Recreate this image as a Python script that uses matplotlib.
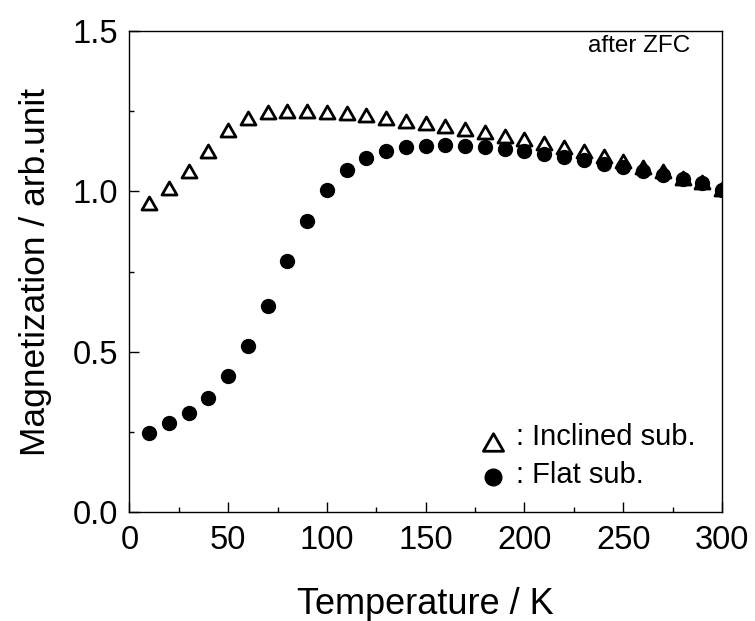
import numpy as np
import matplotlib
matplotlib.use("Agg")
import matplotlib.pyplot as plt
from matplotlib.path import Path

plt.rcParams['font.family'] = ['Liberation Sans', 'DejaVu Sans']

temperature = [10, 20, 30, 40, 50, 60, 70, 80, 90, 100, 110, 120, 130, 140, 150,
               160, 170, 180, 190, 200, 210, 220, 230, 240, 250, 260, 270, 280, 290, 300]

inclined = [0.965, 1.010, 1.062, 1.127, 1.190, 1.230, 1.248, 1.252, 1.252, 1.249,
            1.243, 1.237, 1.228, 1.221, 1.212, 1.203, 1.194, 1.184, 1.174, 1.162,
            1.151, 1.139, 1.125, 1.110, 1.094, 1.077, 1.062, 1.043, 1.029, 1.007]

flat = [0.246, 0.277, 0.310, 0.357, 0.423, 0.517, 0.644, 0.782, 0.909, 1.003,
        1.066, 1.103, 1.126, 1.138, 1.143, 1.145, 1.143, 1.138, 1.132, 1.125,
        1.117, 1.108, 1.099, 1.086, 1.075, 1.062, 1.050, 1.038, 1.025, 1.005]

labels = [": Inclined sub.", ": Flat sub."]
annotation = "after ZFC"

tri = Path([(-1, -0.87), (1, -0.87), (0, 0.87), (-1, -0.87)],
           [Path.MOVETO, Path.LINETO, Path.LINETO, Path.CLOSEPOLY])

fig = plt.figure(figsize=(7.55, 6.21), dpi=100)
ax = fig.add_axes([0.1715, 0.1755, 0.7848, 0.7745])

tri_style = dict(linestyle='none', marker=tri, markerfacecolor='white',
                 markeredgecolor='black', markeredgewidth=2.0)
dot_style = dict(linestyle='none', marker='o', markerfacecolor='black',
                 markeredgecolor='black')

ax.plot(temperature, inclined, markersize=10.8, zorder=3, **tri_style)
ax.plot(temperature, flat, markersize=10.0, zorder=4, **dot_style)

ax.set_xlim(0, 300)
ax.set_ylim(0, 1.5)
ax.set_xticks([0, 50, 100, 150, 200, 250, 300])
ax.set_xticks(np.arange(25, 300, 50), minor=True)
ax.set_yticks([0.0, 0.5, 1.0, 1.5])
ax.set_yticks([0.25, 0.75, 1.25], minor=True)
ax.set_yticklabels(["0.0", "0.5", "1.0", "1.5"])

ax.tick_params(which='both', direction='in', top=False, right=False, width=1.0,
               labelsize=23.5, colors='black')
ax.tick_params(which='major', length=7)
ax.tick_params(which='minor', length=3.5)
ax.tick_params(axis='x', which='major', pad=9)
ax.tick_params(axis='y', which='major', pad=8)

for s in ax.spines.values():
    s.set_linewidth(1.0)

ax.set_xlabel("Temperature / K", fontsize=26)
ax.xaxis.set_label_coords(0.5, -0.155)
ax.set_ylabel("Magnetization / arb.unit", fontsize=25.5, labelpad=15)

ax.text(0.946, 0.969, annotation, transform=ax.transAxes, ha='right', va='center',
        fontsize=17.5)

# legend drawn in axes coordinates
ax.plot([0.614], [0.146], transform=ax.transAxes, clip_on=False, markersize=14.5,
        **tri_style)
ax.plot([0.614], [0.073], transform=ax.transAxes, clip_on=False, markersize=12,
        **dot_style)
ax.text(0.652, 0.156, labels[0], transform=ax.transAxes, ha='left', va='center',
        fontsize=21)
ax.text(0.652, 0.077, labels[1], transform=ax.transAxes, ha='left', va='center',
        fontsize=21)

fig.savefig("out.png", dpi=100)
